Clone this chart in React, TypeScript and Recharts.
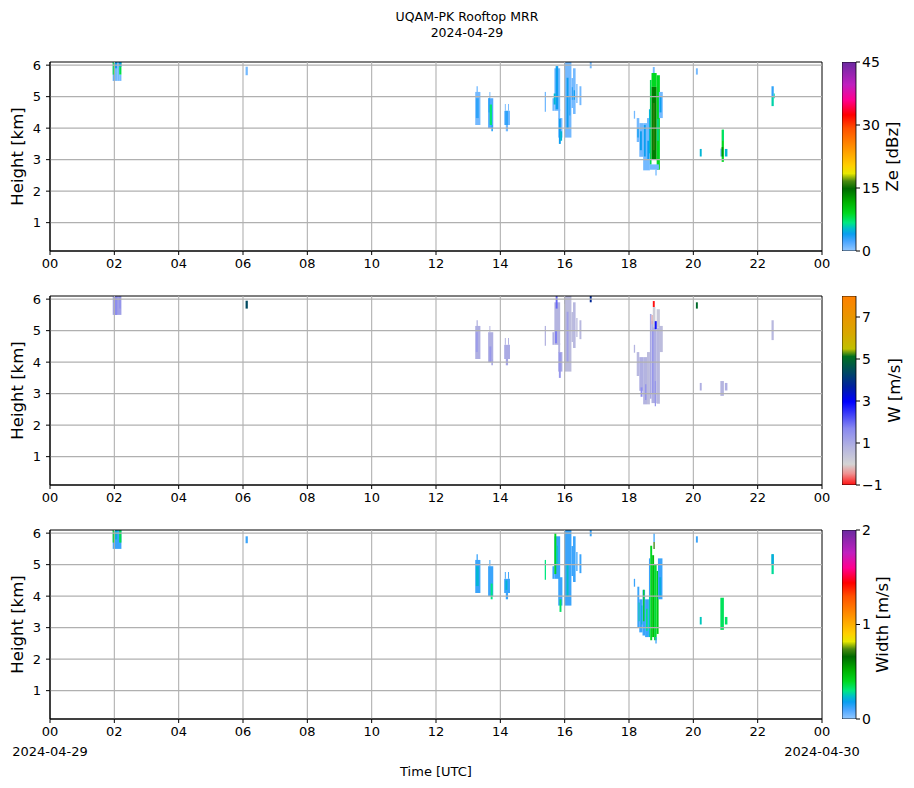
import React from 'react';
import { BarChart, Bar, ComposedChart, XAxis, YAxis, ReferenceArea, ReferenceLine } from 'recharts';

// time axis (hours UTC) and height axis (km)
const hourTicks = [0, 2, 4, 6, 8, 10, 12, 14, 16, 18, 20, 22, 24];
const heightTicks = [1, 2, 3, 4, 5, 6];
const heightDomain: [number, number] = [0.1, 6.1];

// [start h, end h, bottom km, top km, Ze dBz]
const zeCells: number[][] = [
  [1.95, 2.02, 5.5, 6.1, 2], [1.95, 2.02, 5.7, 6.1, 8], [2.02, 2.09, 5.5, 6.1, 1], [2.02, 2.09, 5.9, 6.1, 4],
  [2.09, 2.15, 5.5, 6.1, 1], [2.15, 2.22, 5.5, 5.7, 1], [2.15, 2.22, 5.7, 6.1, 8], [2.15, 2.22, 5.95, 6.1, 4],
  [6.08, 6.15, 5.68, 5.95, 1],
  [13.22, 13.38, 4.1, 5.15, 1], [13.26, 13.3, 5.15, 5.33, 1], [13.24, 13.33, 4.32, 4.95, 3],
  [13.62, 13.78, 4.0, 4.95, 2], [13.66, 13.69, 4.95, 5.15, 1], [13.63, 13.68, 4.5, 4.95, 3], [13.67, 13.74, 4.1, 4.75, 7], [13.72, 13.77, 3.9, 4.1, 3],
  [14.12, 14.3, 4.1, 4.55, 1], [14.15, 14.24, 4.1, 4.55, 3], [14.14, 14.17, 4.55, 4.77, 1], [14.24, 14.27, 4.55, 4.77, 1], [14.17, 14.24, 3.9, 4.1, 1],
  [15.38, 15.42, 4.52, 5.15, 1],
  [15.62, 15.68, 4.55, 4.95, 1], [15.68, 15.86, 4.55, 5.9, 1], [15.72, 15.8, 4.6, 5.97, 4], [15.66, 15.72, 4.75, 5.1, 5],
  [15.8, 15.86, 4.3, 4.6, 1], [15.8, 15.93, 3.7, 4.32, 1], [15.82, 15.88, 3.5, 4.3, 4], [15.86, 15.92, 3.6, 3.9, 5],
  [15.98, 16.05, 5.85, 6.1, 2], [16.0, 16.21, 3.7, 6.1, 1], [16.06, 16.12, 4.0, 5.6, 4], [16.14, 16.18, 4.4, 5.0, 3],
  [16.21, 16.26, 4.64, 5.59, 1], [16.22, 16.26, 4.9, 5.3, 3], [16.26, 16.34, 4.45, 5.9, 1], [16.28, 16.32, 4.9, 5.2, 4],
  [16.36, 16.4, 4.8, 5.4, 1], [16.46, 16.52, 4.73, 5.33, 1],
  [16.78, 16.84, 5.9, 6.1, 1],
  [18.15, 18.19, 4.3, 4.55, 1],
  [18.24, 18.32, 3.56, 4.32, 1], [18.26, 18.3, 3.7, 4.0, 4],
  [18.32, 18.44, 3.09, 4.16, 1], [18.34, 18.4, 3.3, 3.9, 4],
  [18.44, 18.56, 2.66, 4.16, 1], [18.46, 18.52, 3.1, 4.1, 4],
  [18.56, 18.65, 2.66, 4.32, 1], [18.57, 18.63, 3.0, 3.6, 4],
  [18.65, 18.7, 2.84, 5.53, 8], [18.62, 18.66, 3.2, 4.6, 5],
  [18.7, 18.86, 5.31, 5.75, 9], [18.7, 18.86, 3.0, 5.31, 14], [18.74, 18.8, 3.3, 4.8, 16],
  [18.86, 18.96, 2.68, 5.68, 9], [18.88, 18.92, 3.6, 4.3, 6],
  [18.74, 18.8, 5.75, 5.94, 1],
  [18.93, 19.05, 4.32, 5.15, 1], [18.95, 19.01, 4.5, 5.0, 4],
  [18.65, 18.93, 2.68, 2.85, 1], [18.82, 18.86, 2.5, 2.68, 1],
  [20.08, 20.14, 5.7, 5.9, 1], [20.2, 20.26, 3.1, 3.34, 5],
  [20.84, 20.9, 3.1, 3.35, 1], [20.88, 20.95, 2.93, 3.95, 9], [20.9, 20.95, 3.6, 3.95, 7], [20.88, 20.93, 3.1, 3.4, 13],
  [20.98, 21.06, 3.1, 3.34, 5],
  [22.43, 22.5, 5.0, 5.33, 3], [22.43, 22.5, 4.7, 5.0, 6], [22.5, 22.53, 4.95, 5.1, 6],
];

// [start h, end h, bottom km, top km, W m/s]
const wCells: number[][] = [
  [1.95, 2.22, 5.5, 6.1, 1.2], [2.02, 2.09, 5.5, 6.1, 1.6], [2.15, 2.2, 5.7, 6.1, 1.5],
  [6.08, 6.15, 5.7, 5.95, 4.4],
  [13.22, 13.38, 4.1, 5.15, 0.9], [13.26, 13.3, 5.15, 5.33, 0.8], [13.24, 13.3, 4.32, 4.95, 1.3],
  [13.62, 13.78, 4.0, 4.95, 0.9], [13.66, 13.69, 4.95, 5.15, 0.8], [13.66, 13.72, 4.0, 4.5, 1.4], [13.72, 13.77, 3.9, 4.1, 1.0],
  [14.12, 14.3, 4.1, 4.55, 1.0], [14.14, 14.17, 4.55, 4.77, 0.9], [14.24, 14.27, 4.55, 4.77, 0.9], [14.17, 14.24, 3.9, 4.1, 1.1],
  [15.38, 15.42, 4.52, 5.15, 0.8],
  [15.62, 15.68, 4.55, 4.95, 0.9], [15.68, 15.86, 4.55, 5.9, 0.8], [15.72, 15.78, 5.7, 6.1, 2.0], [15.7, 15.76, 4.6, 5.0, 1.8],
  [15.8, 15.86, 4.3, 4.6, 0.8], [15.8, 15.93, 3.7, 4.32, 1.0], [15.82, 15.88, 3.5, 4.3, 1.4],
  [15.98, 16.05, 5.85, 6.1, 1.6], [16.0, 16.21, 3.7, 6.1, 0.6], [16.06, 16.12, 4.0, 5.6, 1.2],
  [16.21, 16.26, 4.64, 5.59, 0.6], [16.26, 16.34, 4.45, 5.9, 0.7], [16.36, 16.4, 4.8, 5.4, 0.6], [16.46, 16.52, 4.73, 5.33, 0.7],
  [16.78, 16.84, 5.9, 6.1, 3.8],
  [18.15, 18.19, 4.3, 4.55, 0.8],
  [18.24, 18.32, 3.56, 4.32, 0.7], [18.32, 18.44, 3.09, 4.16, 0.9], [18.36, 18.42, 2.9, 3.2, 1.6],
  [18.44, 18.56, 2.66, 4.16, 0.8], [18.5, 18.54, 2.8, 3.3, 1.5], [18.56, 18.65, 2.66, 4.32, 0.6],
  [18.65, 18.7, 2.84, 5.53, 1.0], [18.7, 18.86, 2.7, 5.31, 0.9], [18.72, 18.76, 3.0, 5.0, 1.5], [18.8, 18.84, 2.6, 3.4, 1.4],
  [18.86, 18.96, 2.68, 5.1, 0.7], [18.86, 18.96, 5.1, 5.68, 0.3],
  [18.7, 18.74, 5.2, 5.5, -0.3], [18.74, 18.82, 5.1, 5.75, 0.2], [18.74, 18.8, 5.75, 5.94, -1],
  [18.8, 18.86, 5.05, 5.3, 2.8], [18.93, 19.05, 4.32, 5.15, 0.6],
  [20.08, 20.14, 5.7, 5.9, 5.0], [20.2, 20.26, 3.1, 3.34, 0.9],
  [20.84, 20.95, 2.93, 3.4, 0.8], [20.98, 21.06, 3.1, 3.34, 0.9],
  [22.43, 22.5, 4.7, 5.33, 0.7],
];

// [start h, end h, bottom km, top km, spectral width m/s]
const widthCells: number[][] = [
  [1.95, 2.22, 5.5, 6.1, 0.12], [1.95, 2.02, 5.7, 6.1, 0.4], [2.02, 2.09, 5.8, 6.1, 0.22], [2.15, 2.22, 5.7, 6.1, 0.35],
  [6.08, 6.15, 5.68, 5.9, 0.12],
  [13.22, 13.38, 4.1, 5.15, 0.12], [13.26, 13.3, 5.15, 5.33, 0.12], [13.24, 13.33, 4.32, 4.95, 0.22],
  [13.62, 13.78, 4.0, 4.95, 0.12], [13.66, 13.69, 4.95, 5.15, 0.12], [13.7, 13.76, 3.9, 4.4, 0.3],
  [14.12, 14.3, 4.1, 4.55, 0.12], [14.16, 14.22, 4.2, 4.5, 0.22], [14.14, 14.17, 4.55, 4.77, 0.12], [14.24, 14.27, 4.55, 4.77, 0.12], [14.17, 14.24, 3.9, 4.1, 0.12],
  [15.38, 15.42, 4.52, 5.15, 0.3],
  [15.62, 15.68, 4.55, 4.95, 0.12], [15.68, 15.86, 4.55, 5.9, 0.12], [15.68, 15.74, 4.7, 6.0, 0.4], [15.74, 15.78, 5.0, 5.6, 0.26],
  [15.8, 15.93, 3.7, 4.6, 0.12], [15.84, 15.9, 3.5, 3.9, 0.33],
  [15.98, 16.21, 3.7, 6.1, 0.12], [16.06, 16.12, 4.0, 5.0, 0.24],
  [16.21, 16.26, 4.64, 5.59, 0.12], [16.26, 16.34, 4.45, 5.9, 0.12], [16.36, 16.4, 4.8, 5.4, 0.12], [16.46, 16.52, 4.73, 5.33, 0.12],
  [16.78, 16.84, 5.9, 6.1, 0.12],
  [18.15, 18.19, 4.3, 4.55, 0.12],
  [18.26, 18.32, 3.0, 4.3, 0.12], [18.3, 18.34, 3.2, 3.8, 0.3], [18.32, 18.42, 2.85, 3.9, 0.12], [18.38, 18.42, 3.1, 3.7, 0.22],
  [18.42, 18.5, 2.75, 4.2, 0.12], [18.44, 18.48, 3.2, 4.2, 0.42], [18.5, 18.62, 2.7, 3.9, 0.12], [18.53, 18.58, 2.9, 3.6, 0.3],
  [18.62, 18.66, 2.7, 4.0, 0.26], [18.62, 18.66, 4.0, 5.2, 0.12],
  [18.66, 18.72, 2.6, 5.6, 0.4], [18.72, 18.78, 2.7, 5.3, 0.48], [18.78, 18.86, 2.6, 5.0, 0.38], [18.86, 18.92, 2.8, 4.8, 0.44],
  [18.9, 19.04, 3.9, 5.2, 0.12], [18.94, 19.0, 4.0, 4.6, 0.2],
  [18.76, 18.8, 5.5, 5.72, 0.72], [18.76, 18.8, 5.72, 6.0, 0.12], [18.82, 18.86, 2.5, 2.7, 0.12],
  [20.08, 20.14, 5.7, 5.9, 0.12], [20.2, 20.26, 3.1, 3.34, 0.25],
  [20.84, 20.95, 2.93, 3.95, 0.34], [20.98, 21.06, 3.1, 3.34, 0.33],
  [22.43, 22.5, 4.7, 5.33, 0.28], [22.43, 22.5, 5.0, 5.33, 0.2],
];

// colormap stops: [fraction, colour]
const rainbowStops: [number, string][] = [
  [0.0, '#94c8ff'], [0.05, '#4aa6ff'], [0.09, '#0a9ef0'], [0.12, '#00c0c8'], [0.15, '#00e880'],
  [0.2, '#00d820'], [0.26, '#00b000'], [0.33, '#006a00'], [0.37, '#4a8a10'], [0.41, '#e8e800'],
  [0.45, '#ffd000'], [0.55, '#ff9000'], [0.65, '#ff5000'], [0.72, '#ff0000'], [0.8, '#ff0090'],
  [0.88, '#c020c0'], [1.0, '#6a2aa0'],
];
const velocityStops: [number, string][] = [
  [0.0, '#ff1010'], [0.06, '#f09090'], [0.11, '#d4d4d4'], [0.2, '#b4b4e0'], [0.3, '#8888f0'],
  [0.44, '#0000ff'], [0.52, '#0020a0'], [0.6, '#004a60'], [0.68, '#007020'], [0.72, '#c0c000'],
  [0.8, '#d8a800'], [1.0, '#ff8000'],
];

const FONT = '"DejaVu Sans", sans-serif';

function hexToRgb(h: string) {
  return [1, 3, 5].map((i) => parseInt(h.slice(i, i + 2), 16));
}

function colourAt(stops: [number, string][], f: number) {
  const t = Math.max(0, Math.min(1, f));
  for (let i = 1; i < stops.length; i++) {
    if (t <= stops[i][0]) {
      const [f0, c0] = stops[i - 1];
      const [f1, c1] = stops[i];
      const k = (t - f0) / (f1 - f0);
      const a = hexToRgb(c0);
      const b = hexToRgb(c1);
      const rgb = a.map((v, j) => Math.round(v + (b[j] - v) * k));
      return `rgb(${rgb.join(',')})`;
    }
  }
  return stops[stops.length - 1][1];
}

const hh = (v: number) => String(v % 24).padStart(2, '0');
const minus = (v: number) => (v < 0 ? `\u2212${Math.abs(v)}` : String(v));

type PanelProps = {
  id: string;
  cells: number[][];
  stops: [number, string][];
  range: [number, number];
  cbarTicks: number[];
  label: string;
  labelX: number;
  plotTop: number;
};

function Panel({ id, cells, stops, range, cbarTicks, label, labelX, plotTop }: PanelProps) {
  const norm = (v: number) => (v - range[0]) / (range[1] - range[0]);
  const tickStyle = { fontSize: 13, fill: '#000', fontFamily: FONT };
  const midY = plotTop + 94.5;
  const cbarData = [{ name: id, span: range }];
  return (
    <>
      <div style={{ position: 'absolute', left: 0, top: plotTop - 10 }}>
        <ComposedChart width={830} height={229} data={[]} margin={{ top: 10, right: 8, bottom: 5, left: 0 }}>
          <XAxis type="number" dataKey="t" domain={[0, 24]} ticks={hourTicks} tickFormatter={hh} allowDataOverflow
            height={25} tickSize={4} tickMargin={4} tick={tickStyle}
            axisLine={{ stroke: '#000' }} tickLine={{ stroke: '#000' }} />
          <YAxis type="number" dataKey="h" domain={heightDomain} ticks={heightTicks} allowDataOverflow
            width={50} tickSize={4} tickMargin={5} tick={tickStyle}
            axisLine={{ stroke: '#000' }} tickLine={{ stroke: '#000' }} />
          {cells.map((c, i) => (
            <ReferenceArea key={`c${i}`} x1={c[0]} x2={c[1]} y1={c[2]} y2={c[3]}
              fill={colourAt(stops, norm(c[4]))} fillOpacity={1} stroke="none" ifOverflow="hidden" />
          ))}
          {hourTicks.slice(1, -1).map((t) => (
            <ReferenceLine key={`gx${t}`} x={t} stroke="#b0b0b0" strokeWidth={1.1} />
          ))}
          {heightTicks.map((h) => (
            <ReferenceLine key={`gy${h}`} y={h} stroke="#b0b0b0" strokeWidth={1.1} />
          ))}
          <ReferenceArea x1={0} x2={24} y1={heightDomain[0]} y2={heightDomain[1]} fill="none" stroke="#000" strokeWidth={1} />
        </ComposedChart>
      </div>
      <div style={{ position: 'absolute', left: 842, top: plotTop - 10 }}>
        <BarChart width={64} height={229} data={cbarData} barCategoryGap={0}
          margin={{ top: 10, right: 0, bottom: 30, left: 0 }}>
          <defs>
            <linearGradient id={`grad-${id}`} x1="0" y1="1" x2="0" y2="0">
              {stops.map(([f, c]) => (
                <stop key={f} offset={`${f * 100}%`} stopColor={c} />
              ))}
            </linearGradient>
          </defs>
          <XAxis dataKey="name" hide />
          <YAxis type="number" orientation="right" domain={range} ticks={cbarTicks} allowDataOverflow
            width={50} tickSize={4} tickMargin={2} tickFormatter={minus}
            tick={{ fontSize: 14, fill: '#000', fontFamily: FONT }}
            axisLine={false} tickLine={{ stroke: '#000' }} />
          <Bar dataKey="span" fill={`url(#grad-${id})`} stroke="#000" strokeWidth={0.8} isAnimationActive={false} />
        </BarChart>
      </div>
      <svg style={{ position: 'absolute', left: 0, top: 0, overflow: 'visible', pointerEvents: 'none' }} width={914} height={788}>
        <text x={17} y={midY} transform={`rotate(-90 17 ${midY})`} textAnchor="middle"
          dominantBaseline="central" fontSize={16.5} fontFamily={FONT}>Height [km]</text>
        <text x={labelX} y={midY} transform={`rotate(-90 ${labelX} ${midY})`} textAnchor="middle"
          dominantBaseline="central" fontSize={16.5} fontFamily={FONT}>{label}</text>
      </svg>
    </>
  );
}

export default function App() {
  return (
    <div style={{ position: 'absolute', left: 0, top: 0, width: 914, height: 788, background: '#fff', fontFamily: FONT }}>
      <svg style={{ position: 'absolute', left: 0, top: 0 }} width={914} height={788}>
        <text x={467} y={21} textAnchor="middle" fontSize={12.5} fontFamily={FONT}>UQAM-PK Rooftop MRR</text>
        <text x={467} y={37} textAnchor="middle" fontSize={12.5} fontFamily={FONT}>2024-04-29</text>
        <text x={50} y={756} textAnchor="middle" fontSize={13} fontFamily={FONT}>2024-04-29</text>
        <text x={822} y={756} textAnchor="middle" fontSize={13} fontFamily={FONT}>2024-04-30</text>
        <text x={436} y={776} textAnchor="middle" fontSize={13} fontFamily={FONT}>Time [UTC]</text>
      </svg>
      <Panel id="ze" cells={zeCells} stops={rainbowStops} range={[0, 45]} cbarTicks={[0, 15, 30, 45]}
        label="Ze [dBz]" labelX={892} plotTop={62} />
      <Panel id="w" cells={wCells} stops={velocityStops} range={[-1, 8]} cbarTicks={[-1, 1, 3, 5, 7]}
        label="W [m/s]" labelX={894} plotTop={296} />
      <Panel id="sw" cells={widthCells} stops={rainbowStops} range={[0, 2]} cbarTicks={[0, 1, 2]}
        label="Width [m/s]" labelX={882} plotTop={530} />
    </div>
  );
}
